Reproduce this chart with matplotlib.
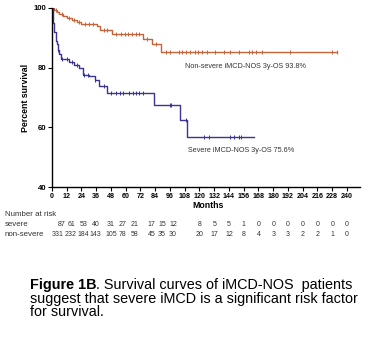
import numpy as np
import matplotlib
matplotlib.use('Agg')
import matplotlib.pyplot as plt
from matplotlib import transforms

plt.rcParams['font.family'] = ['Liberation Sans', 'DejaVu Sans']

# Kaplan-Meier step points (months, percent survival)
nonsev_t = [0, 2, 4, 6, 9, 12, 16, 20, 24, 36.5, 39, 48.6, 74, 81, 89, 232]
nonsev_s = [100, 99.4, 98.7, 97.9, 97.2, 96.6, 95.9, 95.2, 94.6, 93.8, 92.7, 91.4, 89.6, 88.0, 85.3, 85.3]
sev_t = [0, 0.5, 1, 2, 3, 4, 5, 6, 7, 14, 18, 22, 25, 30, 35, 38, 45, 83, 104, 110, 164]
sev_s = [100, 97, 95, 92, 89, 88, 86, 84.5, 83, 82, 81, 79.9, 77.7, 77.1, 76, 73.7, 71.5, 67.6, 62.3, 56.8, 56.8]

# censored observations
nonsev_cens = [3, 8, 14, 18, 22, 27, 30, 33, 42, 45, 52, 56, 59, 62, 65, 68, 71, 77, 85,
               93, 96, 103, 106, 109, 112, 116, 119, 122, 126, 133, 140, 145, 152,
               160, 163, 166, 171, 194, 228, 232]
sev_cens = [5, 8, 12, 16, 20, 26, 29, 35, 42, 48, 52, 55, 58, 63, 66, 68, 71, 74, 96, 97,
            108.7, 124, 128, 145, 148, 152, 154]

months_ticks = list(range(0, 241, 12))
risk_sev = [87, 61, 53, 40, 31, 27, 21, 17, 15, 12, 8, 5, 5, 1, 0, 0, 0, 0, 0, 0, 0]
risk_nonsev = [331, 232, 184, 143, 105, 78, 58, 45, 35, 30, 20, 17, 12, 8, 4, 3, 3, 2, 2, 1, 0]
# column positions (months) of the at-risk table
risk_cols = [4.5, 15.5, 25.5, 35.5, 48, 57.5, 67.5, 81, 89.5, 98.5, 120, 132, 144, 156, 168,
             180, 192, 204, 216, 228, 240]

c_nonsev = '#c5633a'
c_sev = '#3b3490'
txt = '#333333'

fig = plt.figure(figsize=(3.88, 3.38), dpi=100)
ax = fig.add_axes([52/388, 1 - 187/338, 308/388, 179/338])


def step_at(t, ts, ss):
    idx = np.searchsorted(ts, t, side='right') - 1
    return np.array(ss)[idx]


for ts, ss, cens, col in [(nonsev_t, nonsev_s, nonsev_cens, c_nonsev),
                          (sev_t, sev_s, sev_cens, c_sev)]:
    ax.step(ts, ss, where='post', color=col, lw=1.0)
    ax.plot(cens, step_at(np.array(cens), ts, ss), ls='none', marker='|',
            ms=3, mew=0.7, color=col)

ax.set_xlim(0, 250.6)
ax.set_ylim(40, 100)
ax.set_xticks(months_ticks)
ax.set_yticks([40, 60, 80, 100])
ax.tick_params(axis='x', labelsize=5.1, length=3, width=0.8, pad=1.5)
ax.tick_params(axis='y', labelsize=5.6, length=3, width=0.8, pad=1)
for lab in ax.get_xticklabels() + ax.get_yticklabels():
    lab.set_fontweight('bold')
for side in ['top', 'right']:
    ax.spines[side].set_visible(False)
for side in ['left', 'bottom']:
    ax.spines[side].set_linewidth(1.0)

ax.set_ylabel('Percent survival', fontsize=6.3, fontweight='bold', labelpad=2.5)
fig.text(208/388, 1 - 205/338, 'Months', fontsize=6.3, fontweight='bold',
         ha='center', va='center')

ax.text(108, 80.5, 'Non-severe iMCD-NOS 3y-OS 93.8%', fontsize=5.2,
        color=txt, va='center')
ax.text(111, 52.3, 'Severe iMCD-NOS 3y-OS 75.6%', fontsize=5.2,
        color=txt, va='center')

# number at risk table
fs_lab = 5.7
fs_num = 5.0
fig.text(5/388, 1 - 215/338, 'Number at risk', fontsize=fs_lab, color=txt, va='center')
fig.text(5/388, 1 - 225/338, 'severe', fontsize=fs_lab, color=txt, va='center')
fig.text(5/388, 1 - 234/338, 'non-severe', fontsize=fs_lab, color=txt, va='center')
trans = transforms.blended_transform_factory(ax.transData, fig.transFigure)
for i, (a, b) in enumerate(zip(risk_sev, risk_nonsev)):
    xs = risk_cols[i] + 3.5 if i == 0 else risk_cols[i]
    ax.text(xs, 1 - 225/338, str(a), transform=trans, fontsize=fs_num,
            color=txt, ha='center', va='center', clip_on=False)
    ax.text(risk_cols[i], 1 - 234/338, str(b), transform=trans, fontsize=fs_num,
            color=txt, ha='center', va='center', clip_on=False)

# caption
fs_cap = 10.4
cap = fig.text(30/388, 1 - 285/338, 'Figure 1B', fontsize=fs_cap, fontweight='bold',
               va='center')
ax.annotate('. Survival curves of iMCD-NOS  patients', xy=(1, 0.5),
            xycoords=cap, va='center', fontsize=fs_cap)
fig.text(30/388, 1 - 298.5/338, 'suggest that severe iMCD is a significant risk factor',
         fontsize=fs_cap, va='center')
fig.text(30/388, 1 - 312/338, 'for survival.', fontsize=fs_cap, va='center')

fig.savefig('out.png', dpi=100, facecolor='white')
